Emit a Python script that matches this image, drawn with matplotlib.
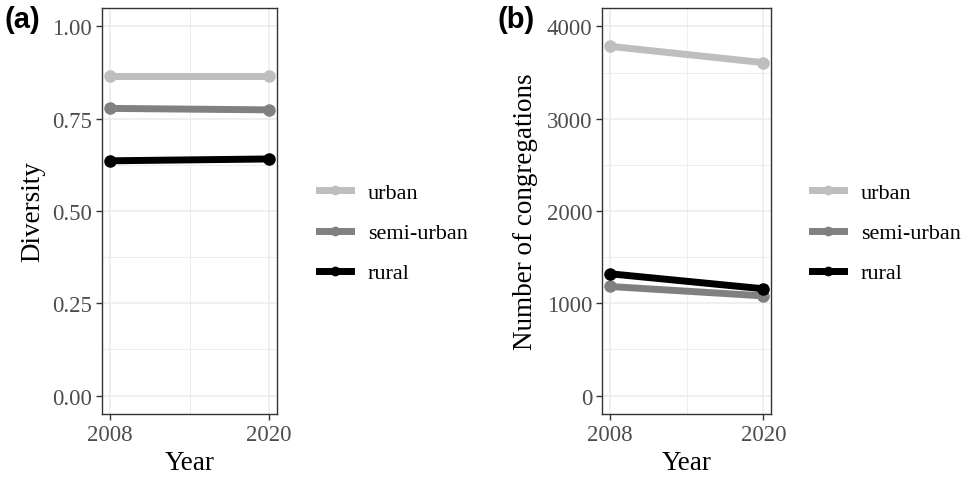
import matplotlib
matplotlib.use("Agg")
import matplotlib.pyplot as plt
from matplotlib.lines import Line2D

years = [2008, 2020]
categories = ["urban", "semi-urban", "rural"]
colors = ["#BEBEBE", "#808080", "#000000"]
diversity = {
    "urban": [0.865, 0.865],
    "semi-urban": [0.778, 0.774],
    "rural": [0.636, 0.641],
}
congregations = {
    "urban": [3785, 3608],
    "semi-urban": [1182, 1080],
    "rural": [1320, 1157],
}
div_ticks = [0.0, 0.25, 0.5, 0.75, 1.0]
div_ticklabels = ["0.00", "0.25", "0.50", "0.75", "1.00"]
cong_ticks = [0, 1000, 2000, 3000, 4000]
cong_ticklabels = ["0", "1000", "2000", "3000", "4000"]

plt.rcParams["font.family"] = ["Liberation Serif", "DejaVu Serif"]

W, H = 961, 481
fig = plt.figure(figsize=(W / 100, H / 100), dpi=100)

def px_axes(l, r, t, b):
    return fig.add_axes([l / W, 1 - b / H, (r - l) / W, (b - t) / H])

def style(ax, yticks, ylabels, ylim, ylabel, ylab_x):
    ax.set_xlim(2008 - 0.6, 2020 + 0.6)
    ax.set_ylim(*ylim)
    ax.set_xticks(years)
    ax.set_xticklabels([str(y) for y in years])
    ax.set_xticks([2014], minor=True)
    ax.set_yticks(yticks)
    ax.set_yticklabels(ylabels)
    mids = [(yticks[i] + yticks[i + 1]) / 2 for i in range(len(yticks) - 1)]
    ax.set_yticks(mids, minor=True)
    ax.grid(True, which="major", color="#EBEBEB", linewidth=1.1)
    ax.grid(True, which="minor", color="#EBEBEB", linewidth=0.6)
    ax.set_axisbelow(True)
    for s in ax.spines.values():
        s.set_color("#333333")
        s.set_linewidth(1.0)
    ax.tick_params(which="major", direction="out", length=4, width=1.0, color="#333333",
                   labelsize=16.5, labelcolor="#4D4D4D", pad=3)
    ax.tick_params(which="minor", length=0)
    ax.set_xlabel("Year", fontsize=19.5, labelpad=4)
    ax.set_ylabel(ylabel, fontsize=19.5)
    ax.yaxis.set_label_coords(ylab_x / W, 1 - 212 / H, transform=fig.transFigure)

def draw(ax, data):
    for cat, col in zip(categories, colors):
        ax.plot(years, data[cat], color=col, linewidth=5, marker="o", markersize=8,
                solid_capstyle="butt", label=cat, zorder=3)

ax1 = px_axes(102, 277, 9, 415)
draw(ax1, diversity)
style(ax1, div_ticks, div_ticklabels, (-0.05, 1.05), "Diversity", 45)

ax2 = px_axes(602, 771, 9, 415)
draw(ax2, congregations)
style(ax2, cong_ticks, cong_ticklabels, (-200, 4200), "Number of congregations", 538)

def legend(ax, xpx):
    handles = [Line2D([0], [0], color=c, linewidth=5, marker="o", markersize=6) for c in colors]
    ax.legend(handles, categories, loc="center left",
              bbox_to_anchor=(xpx / W, 1 - 234 / H), bbox_transform=fig.transFigure,
              frameon=False, fontsize=16, handlelength=1.45, handletextpad=0.75,
              labelspacing=0.88, borderpad=0, borderaxespad=0)

legend(ax1, 319)
legend(ax2, 812)

fig.text(5 / W, 1 - 20 / H, "(a)", fontsize=21, fontweight="bold",
         family=["Liberation Sans", "DejaVu Sans"], va="center", ha="left")
fig.text(497 / W, 1 - 20 / H, "(b)", fontsize=21, fontweight="bold",
         family=["Liberation Sans", "DejaVu Sans"], va="center", ha="left")

fig.savefig("out.png", dpi=100)
